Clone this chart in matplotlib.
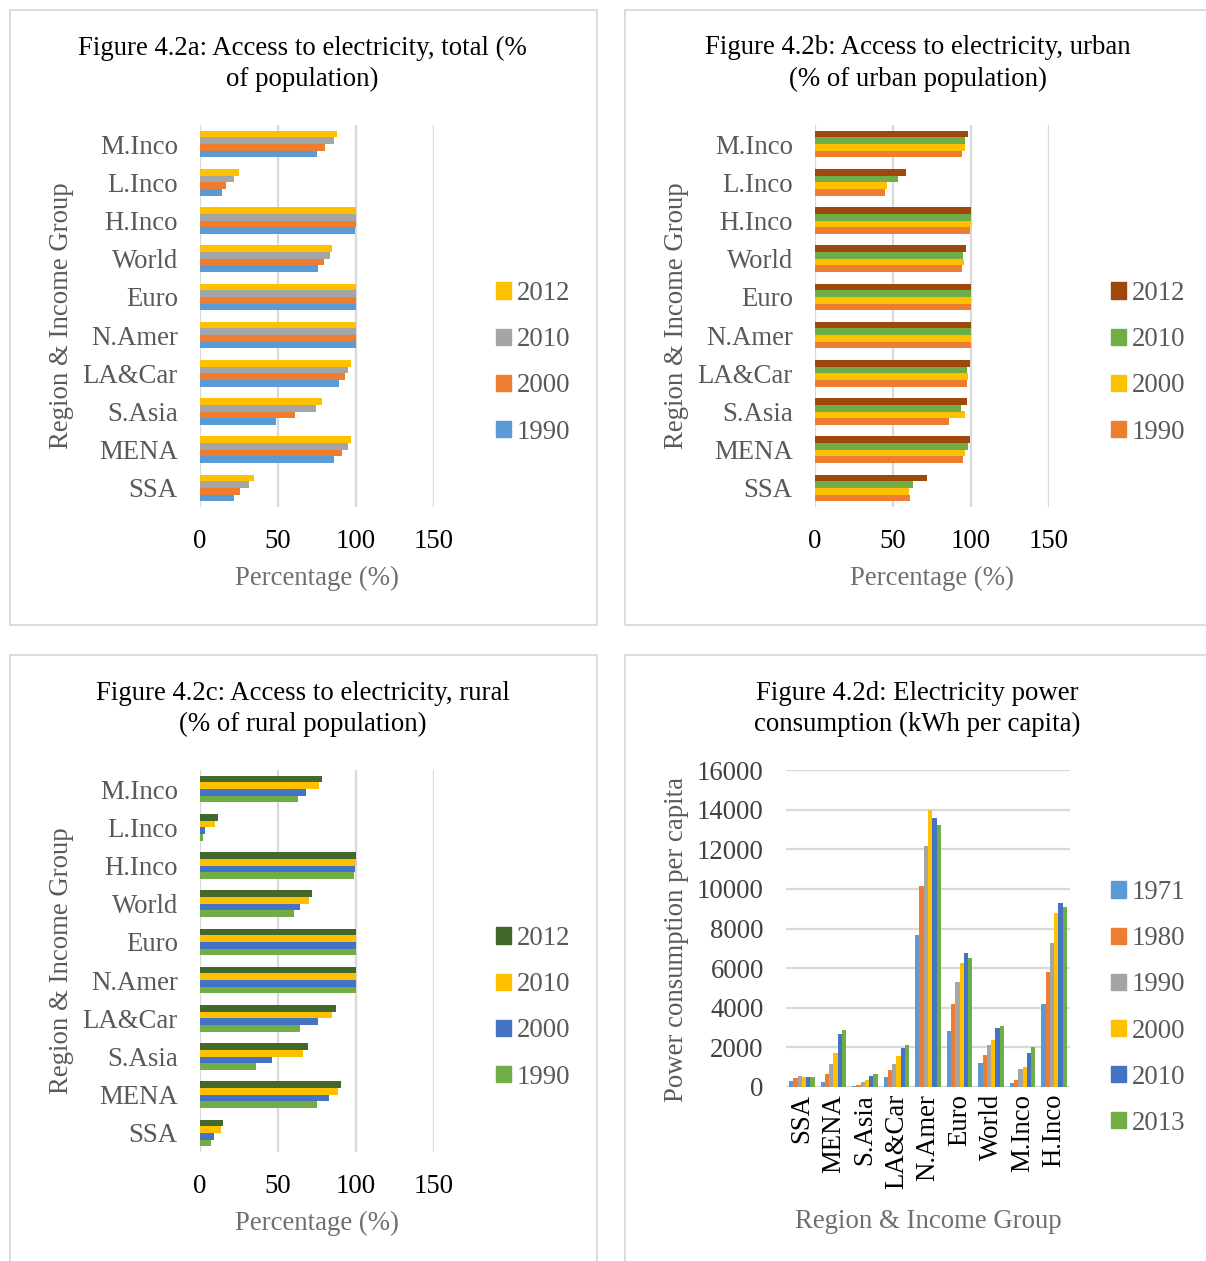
import numpy as np
import matplotlib
matplotlib.use("Agg")
import matplotlib.pyplot as plt
from matplotlib.patches import Rectangle, Patch

plt.rcParams['font.family'] = ['Liberation Serif', 'DejaVu Serif']

# ---------------- data ----------------
regions_bar = ["SSA", "MENA", "S.Asia", "LA&Car", "N.Amer", "Euro",
               "World", "H.Inco", "L.Inco", "M.Inco"]
years_access = ["1990", "2000", "2010", "2012"]

# Access to electricity, total (% of population)
total_1990 = [22.0, 86.0, 49.0, 89.0, 100.0, 100.0, 75.7, 99.5, 14.4, 74.8]
total_2000 = [25.6, 90.8, 61.0, 93.0, 100.0, 100.0, 79.6, 100.0, 16.8, 80.4]
total_2010 = [31.4, 94.8, 74.4, 95.0, 100.0, 100.0, 83.2, 100.0, 22.0, 86.0]
total_2012 = [34.8, 96.5, 78.0, 96.8, 100.0, 100.0, 84.7, 100.0, 25.0, 88.0]

# Access to electricity, urban (% of urban population)
urban_1990 = [61.0, 95.0, 86.0, 97.6, 100.0, 100.0, 94.2, 99.5, 44.8, 94.2]
urban_2000 = [60.0, 96.1, 96.4, 98.0, 100.0, 100.0, 95.5, 99.7, 46.0, 96.4]
urban_2010 = [62.9, 98.3, 93.3, 97.6, 100.0, 100.0, 95.0, 99.8, 53.4, 96.0]
urban_2012 = [71.5, 99.4, 97.6, 99.4, 100.0, 100.0, 96.8, 100.0, 58.6, 97.9]

# Access to electricity, rural (% of rural population)
rural_1990 = [6.9, 74.8, 35.7, 64.3, 100.0, 100.0, 60.4, 98.9, 1.7, 62.6]
rural_2000 = [9.0, 82.8, 46.2, 75.5, 100.0, 100.0, 63.9, 99.4, 3.4, 68.0]
rural_2010 = [13.3, 88.4, 66.2, 84.7, 100.0, 100.0, 69.9, 99.8, 9.5, 76.3]
rural_2012 = [14.6, 90.3, 69.2, 87.3, 100.0, 100.0, 71.6, 99.8, 11.6, 78.5]

# Electric power consumption (kWh per capita)
regions_col = ["SSA", "MENA", "S.Asia", "LA&Car", "N.Amer", "Euro",
               "World", "M.Inco", "H.Inco"]
years_power = ["1971", "1980", "1990", "2000", "2010", "2013"]
power_1971 = [320, 270, 70, 490, 7680, 2810, 1210, 220, 4200]
power_1980 = [470, 670, 120, 870, 10150, 4200, 1600, 370, 5780]
power_1990 = [540, 1180, 235, 1180, 12150, 5290, 2120, 910, 7280]
power_2000 = [500, 1730, 350, 1580, 13980, 6240, 2390, 1010, 8790]
power_2010 = [500, 2670, 570, 1950, 13580, 6770, 2970, 1730, 9280]
power_2013 = [490, 2870, 670, 2120, 13240, 6490, 3090, 2020, 9090]

# ---------------- layout ----------------
W, H = 1206, 1261
fig = plt.figure(figsize=(W / 100, H / 100), dpi=100)
fig.patch.set_facecolor("white")

FS = 19.3
GRID = "#D9D9D9"
LABEL_GREY = "#595959"
AXIS_GREY = "#6E6E6E"


def rect(x0, y0, x1, y1):
    return [x0 / W, 1 - y1 / H, (x1 - x0) / W, (y1 - y0) / H]


def panel_box(x0, y0, x1, y1):
    fig.patches.append(Rectangle((x0 / W, 1 - y1 / H), (x1 - x0) / W,
                                 (y1 - y0) / H, transform=fig.transFigure,
                                 fill=False, edgecolor=GRID, lw=1.3))


def title(cx, ytop, lines):
    for i, ln in enumerate(lines):
        fig.text(cx / W, 1 - (ytop + 31 * i) / H, ln, ha="center", va="center",
                 fontsize=FS, color="black")


def legend(ax, handles, labels, x, ytop):
    leg = ax.legend(handles, labels, loc="upper left",
                    bbox_to_anchor=(x / W, 1 - ytop / H),
                    bbox_transform=fig.transFigure, frameon=False,
                    fontsize=FS, handlelength=0.55, handleheight=0.55,
                    handletextpad=0.22, labelspacing=0.79, borderpad=0,
                    borderaxespad=0)
    for t in leg.get_texts():
        t.set_color(LABEL_GREY)


def hbar_panel(box, series, colors, ttl, leg_x, leg_y):
    x0, y0 = box
    ax = fig.add_axes(rect(x0 + 190, y0 + 115, x0 + 424, y0 + 497))
    n = len(regions_bar)
    y = np.arange(n)
    bh = 0.175
    # first series lowest inside each group
    for k, (vals, c) in enumerate(zip(series, colors)):
        ax.barh(y + (k - 1.5) * bh, vals, height=bh, color=c, zorder=3)
    ax.set_xlim(0, 150)
    ax.set_ylim(-0.5, n - 0.5)
    ax.set_xticks([0, 50, 100, 150])
    ax.set_yticks(y)
    ax.set_yticklabels(regions_bar)
    ax.xaxis.grid(True, color=GRID, lw=1.6, zorder=0)
    for s in ax.spines.values():
        s.set_visible(False)
    ax.tick_params(axis="both", length=0, labelsize=FS)
    ax.tick_params(axis="x", pad=16, labelcolor="black")
    ax.tick_params(axis="y", pad=16, labelcolor=LABEL_GREY)
    ax.set_xlabel("Percentage (%)", fontsize=FS, color=AXIS_GREY)
    ax.xaxis.set_label_coords(0.5, -0.187)
    ax.xaxis.label.set_va("center")
    ax.set_ylabel("Region & Income Group", fontsize=FS, color=LABEL_GREY)
    ax.yaxis.set_label_coords(-0.59, 0.5)
    ax.yaxis.label.set_va("center")
    title(x0 + 292.5, y0 + 38, ttl)
    handles = [Patch(color=c) for c in colors][::-1]
    labels = years_access[::-1]
    legend(ax, handles, labels, leg_x, leg_y)
    return ax


panel_box(10, 10, 597, 625)
panel_box(625, 10, 1230, 625)
panel_box(10, 655, 597, 1290)
panel_box(625, 655, 1230, 1290)

hbar_panel((10, 10), [total_1990, total_2000, total_2010, total_2012],
           ["#5B9BD5", "#ED7D31", "#A5A5A5", "#FFC000"],
           ["Figure 4.2a: Access to electricity, total (%", "of population)"],
           496, 281)
hbar_panel((625, 10), [urban_1990, urban_2000, urban_2010, urban_2012],
           ["#ED7D31", "#FFC000", "#70AD47", "#9E480E"],
           ["Figure 4.2b: Access to electricity, urban", "(% of urban population)"],
           1111, 281)
hbar_panel((10, 655), [rural_1990, rural_2000, rural_2010, rural_2012],
           ["#70AD47", "#4472C4", "#FFC000", "#43682B"],
           ["Figure 4.2c: Access to electricity, rural", "(% of rural population)"],
           496, 926)

# ---------------- column panel ----------------
axd = fig.add_axes(rect(786, 770, 1070, 1087))
pw_series = [power_1971, power_1980, power_1990, power_2000, power_2010, power_2013]
pw_colors = ["#5B9BD5", "#ED7D31", "#A5A5A5", "#FFC000", "#4472C4", "#70AD47"]
x = np.arange(len(regions_col))
bw = 0.135
for k, (vals, c) in enumerate(zip(pw_series, pw_colors)):
    axd.bar(x + (k - 2.5) * bw, vals, width=bw, color=c, zorder=3)
axd.set_xlim(-0.5, len(regions_col) - 0.5)
axd.set_ylim(0, 16000)
axd.set_yticks(np.arange(0, 16001, 2000))
axd.set_xticks(x)
axd.set_xticklabels(regions_col, rotation=90, va="top", ha="center")
axd.yaxis.grid(True, color=GRID, lw=1.6, zorder=0)
for s in axd.spines.values():
    s.set_visible(False)
axd.axhline(0, color=GRID, lw=1.6, zorder=2)
axd.tick_params(axis="both", length=0, labelsize=FS)
axd.tick_params(axis="x", pad=5, labelcolor="black")
axd.tick_params(axis="y", pad=16, labelcolor="#404040")
axd.set_xlabel("Region & Income Group", fontsize=FS, color=AXIS_GREY)
axd.xaxis.set_label_coords(0.5, -0.425)
axd.xaxis.label.set_va("center")
axd.set_ylabel("Power consumption per capita", fontsize=FS, color=LABEL_GREY)
axd.yaxis.set_label_coords(-0.387, 0.465)
axd.yaxis.label.set_va("center")
title(917, 693, ["Figure 4.2d: Electricity power", "consumption (kWh per capita)"])
legend(axd, [Patch(color=c) for c in pw_colors], years_power, 1111, 880)

fig.savefig("out.png", dpi=100, facecolor="white")
